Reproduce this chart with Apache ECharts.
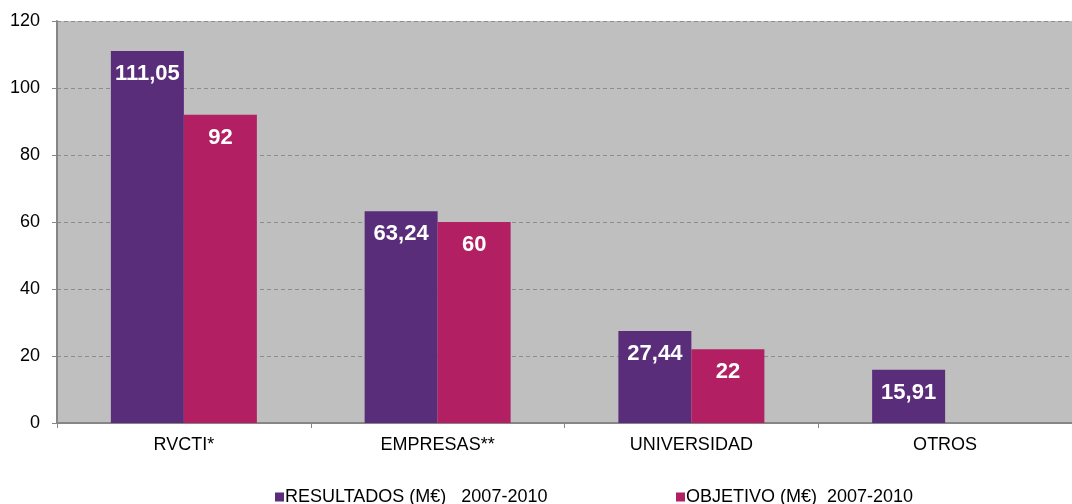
<!DOCTYPE html>
<html>
<head>
<meta charset="utf-8">
<script src="https://cdn.jsdelivr.net/npm/echarts@6/dist/echarts.min.js"></script>
<style>html,body{margin:0;padding:0;background:#fff}#c{width:1072px;height:504px}</style>
</head>
<body>
<div id="c"></div>
<script>
var categories = ['RVCTI*', 'EMPRESAS**', 'UNIVERSIDAD', 'OTROS'];
var resultados = [111.05, 63.24, 27.44, 15.91];
var objetivo = [92, 60, 22, null];
var seriesNames = ['RESULTADOS (M€)   2007-2010', 'OBJETIVO (M€)  2007-2010'];
var yTicks = [0, 20, 40, 60, 80, 100, 120];

var chart = echarts.init(document.getElementById('c'), null, {renderer: 'canvas'});
var font = 'Arial, "Liberation Sans", sans-serif';
function fmt(p) { return p.value == null ? '' : String(p.value).replace('.', ','); }
var labelStyle = {
  show: true, position: 'insideTop', distance: 12, color: '#fff',
  fontWeight: 'bold', fontSize: 22, fontFamily: font, formatter: fmt
};
chart.setOption({
  animation: false,
  grid: {left: 57, right: 0, top: 21, bottom: 81, show: true, backgroundColor: '#BFBFBF', borderWidth: 0},
  legend: [
    {data: [seriesNames[0]], left: 275, top: 488, icon: 'rect', itemWidth: 9, itemHeight: 9, itemGap: 0, padding: 0,
     textStyle: {fontSize: 18, fontFamily: font, color: '#000', padding: [0,0,0,-4]}},
    {data: [seriesNames[1]], left: 676, top: 488, icon: 'rect', itemWidth: 9, itemHeight: 9, itemGap: 0, padding: 0,
     textStyle: {fontSize: 18, fontFamily: font, color: '#000', padding: [0,0,0,-4]}}
  ],
  xAxis: {
    type: 'category', data: categories,
    axisLine: {lineStyle: {color: '#868686', width: 2}},
    axisTick: {show: true, length: 5, lineStyle: {color: '#868686'}},
    axisLabel: {fontSize: 18, fontFamily: font, color: '#000', margin: 13}
  },
  yAxis: {
    type: 'value', min: yTicks[0], max: yTicks[yTicks.length - 1], interval: 20,
    axisLine: {show: true, lineStyle: {color: '#868686', width: 2}},
    axisTick: {show: true, length: 5, lineStyle: {color: '#868686'}},
    axisLabel: {fontSize: 18, fontFamily: font, color: '#000', margin: 17},
    splitLine: {show: true, lineStyle: {color: '#8C8C8C', type: [4, 3], width: 1}}
  },
  series: [
    {name: seriesNames[0], type: 'bar', data: resultados, barWidth: 73, barGap: '0%',
     itemStyle: {color: '#5A2D7B'}, label: labelStyle},
    {name: seriesNames[1], type: 'bar', data: objetivo, barWidth: 73, barGap: '0%',
     itemStyle: {color: '#B21F62'}, label: labelStyle}
  ]
});
</script>
</body>
</html>
